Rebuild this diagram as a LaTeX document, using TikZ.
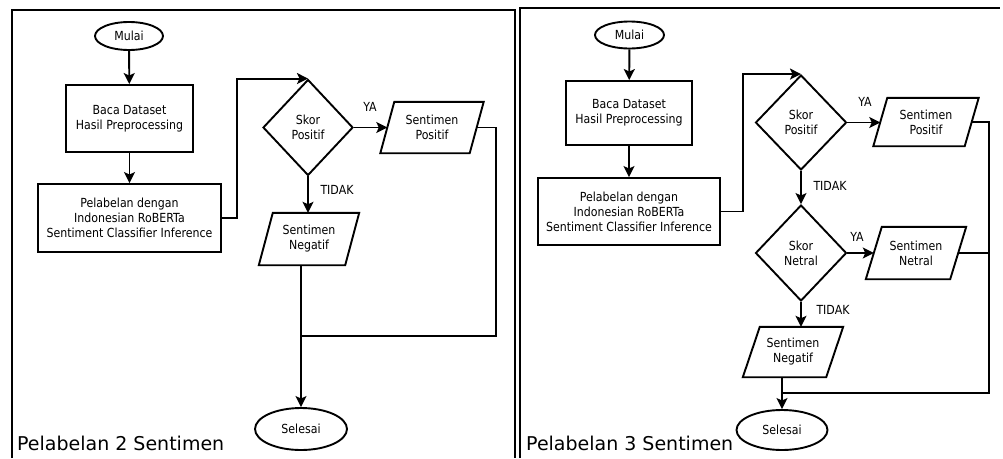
\documentclass[tikz,border=0pt]{standalone}
\usepackage{fontspec}
\setmainfont{DejaVu Sans}
\newfontfamily\chartfont{DejaVu Sans}[FakeStretch=0.88]
\usetikzlibrary{shapes.geometric,arrows.meta}

\tikzset{
  flow/.style={line width=1.9pt, line join=miter},
  arr/.style={flow, -{Stealth[length=11pt,width=11pt,inset=2.5pt]}},
  txt/.style={font=\chartfont\fontsize{12.5}{15}\selectfont, align=center},
  term/.style={txt, draw, flow, ellipse, inner sep=0pt},
  proc/.style={txt, draw, flow, rectangle, inner sep=0pt},
  decide/.style={txt, draw, flow, diamond, inner sep=0pt},
  iobox/.style={txt, rectangle, inner sep=0pt},
  lbl/.style={font=\chartfont\fontsize{12.5}{14}\selectfont, inner sep=0pt},
  caption/.style={font=\fontsize{19}{22}\selectfont, inner sep=0pt, anchor=base west},
  frame/.style={line width=2pt}
}

% outline of an input/output parallelogram around a named box; #2 is the slant
\newcommand\ioshape[2]{%
  \draw[flow] ([xshift=#2/2]#1.north west) -- ([xshift=#2/2]#1.north east)
    -- ([xshift=-#2/2]#1.south east) -- ([xshift=-#2/2]#1.south west) -- cycle;}

\begin{document}
\begin{tikzpicture}[x=1pt, y=-1pt]
\useasboundingbox (0,0) rectangle (1003,458);

% panel frames
\draw[frame] (12,458) -- (12,10) -- (514.5,10) -- (514.5,458);
\draw[frame] (519.5,458) -- (519.5,7.5) -- (1000,7.5);

% ---------- two sentiments ----------
\node[term, minimum width=68pt, minimum height=28pt] (mulL) at (129,36) {Mulai};
\node[proc, minimum width=127pt, minimum height=67pt] (bacaL) at (129.5,118.5) {Baca Dataset\\Hasil Preprocessing};
\node[proc, minimum width=183pt, minimum height=68pt] (pelL) at (129.5,218) {Pelabelan dengan\\Indonesian RoBERTa\\Sentiment Classifier Inference};
\node[decide, minimum width=90pt, minimum height=96pt] (skorL) at (308,127.5) {Skor\\Positif};
\node[iobox, minimum width=89pt, minimum height=51pt] (posL) at (432,127.5) {Sentimen\\Positif};
\node[iobox, minimum width=86pt, minimum height=52pt] (negL) at (309,239) {Sentimen\\Negatif};
\node[term, minimum width=92pt, minimum height=42pt] (selL) at (301,429) {Selesai};
\ioshape{posL}{14}
\ioshape{negL}{14}
\coordinate (railL) at (496,336);
\coordinate (jL) at (selL.north |- railL);

\draw[arr] (mulL) -- (bacaL);
\draw[arr] (bacaL) -- (pelL);
\draw[arr] (pelL.east) -- ++(15,0) |- (skorL.north);
\draw[arr] (skorL.east) -- (posL.west);
\draw[arr] (skorL.south) -- (skorL.south |- negL.north);
\draw[flow] (posL.east) -| (railL) -- (jL);
\draw[arr] (selL.north |- negL.south) -- (selL.north);
\node[lbl] (yaL) at (370,107) {YA};
\node[lbl] (tidakL) at (337,190) {TIDAK};
\node[caption] (capL) at (17,450) {Pelabelan 2 Sentimen};

% ---------- three sentiments ----------
\node[term, minimum width=69pt, minimum height=27pt] (mulR) at (629.5,35) {Mulai};
\node[proc, minimum width=126pt, minimum height=64pt] (bacaR) at (629,113) {Baca Dataset\\Hasil Preprocessing};
\node[proc, minimum width=182pt, minimum height=67pt] (pelR) at (629,211.5) {Pelabelan dengan\\Indonesian RoBERTa\\Sentiment Classifier Inference};
\node[decide, minimum width=91pt, minimum height=95pt] (skorPR) at (801,122.5) {Skor\\Positif};
\node[iobox, minimum width=91pt, minimum height=48pt] (posR) at (926,122) {Sentimen\\Positif};
\node[decide, minimum width=91pt, minimum height=96pt] (skorNR) at (801,253) {Skor\\Netral};
\node[iobox, minimum width=84pt, minimum height=52pt] (netR) at (916,253) {Sentimen\\Netral};
\node[iobox, minimum width=83pt, minimum height=50pt] (negR) at (793,352) {Sentimen\\Negatif};
\node[term, minimum width=91pt, minimum height=40pt] (selR) at (782,430) {Selesai};
\ioshape{posR}{14}
\ioshape{netR}{16}
\ioshape{negR}{17}
\coordinate (railR) at (989,393);
\coordinate (jR) at (selR.north |- railR);

\draw[arr] (mulR) -- (bacaR);
\draw[arr] (bacaR) -- (pelR);
\draw[arr] (pelR.east) -- ++(22,0) |- (skorPR.north);
\draw[arr] (skorPR.east) -- (skorPR.east -| posR.west);
\draw[arr] (skorPR.south) -- (skorNR.north);
\draw[arr] (skorNR.east) -- (netR.west);
\draw[arr] (skorNR.south) -- (skorNR.south |- negR.north);
\draw[flow] (posR.east) -| (railR) -- (jR);
\draw[flow] (netR.east) -- (netR.east -| railR);
\draw[arr] (selR.north |- negR.south) -- (selR.north);
\node[lbl] (yaPR) at (865,102) {YA};
\node[lbl] (tidakPR) at (830,186) {TIDAK};
\node[lbl] (yaNR) at (857,237) {YA};
\node[lbl] (tidakNR) at (833,310) {TIDAK};
\node[caption] (capR) at (526,450) {Pelabelan 3 Sentimen};
\end{tikzpicture}
\end{document}
